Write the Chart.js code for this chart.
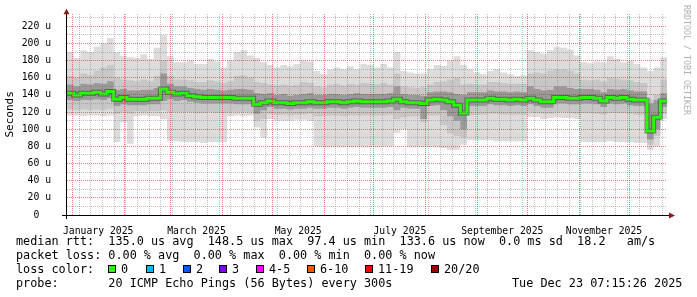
<!DOCTYPE html>
<html>
<head>
<meta charset="utf-8">
<script src="https://cdn.jsdelivr.net/npm/chart.js@4.4.1/dist/chart.umd.min.js"></script>
<style>
  html, body { margin: 0; padding: 0; background: #fff; }
  #wrap { position: relative; width: 697px; height: 297px; overflow: hidden; }
  #chart { position: absolute; left: 0; top: 0; }
  .row { position: absolute; font-family: 'DejaVu Sans Mono', monospace; font-size: 11.8px; line-height: 14px; white-space: pre; color: #000; }
  .box { position: absolute; width: 8px; height: 8px; box-sizing: border-box; border: 1px solid #000; }
  #credit { position: absolute; left: 682px; top: 5px; writing-mode: vertical-rl; font-family: 'DejaVu Sans Mono', monospace; font-size: 8.3px; color: #b0b0b0; white-space: pre; }
</style>
</head>
<body>
<div id="wrap">
  <canvas id="chart" width="697" height="297"></canvas>
  <div id="credit">RRDTOOL / TOBI OETIKER</div>
  <div class="row" style="left:16px;top:234px">median rtt:  135.0 us avg  148.5 us max  97.4 us min  133.6 us now  0.0 ms sd  18.2   am/s</div>
  <div class="row" style="left:16px;top:248px">packet loss: 0.00 % avg  0.00 % max  0.00 % min  0.00 % now</div>
  <div class="row" id="lossRow" style="left:0;top:262px;width:697px;height:14px"></div>
  <div class="row" style="left:16px;top:276px">probe:       20 ICMP Echo Pings (56 Bytes) every 300s</div>
  <div class="row" style="left:512px;top:276px">Tue Dec 23 07:15:26 2025</div>
</div>
<script>
// x axis is in days since 2025-01-01 00:00, one value every 4 days
var xMin = -3.2, xMax = 356.8;
var firstDay = -3.2, stepDays = 4;

var median = [142,140,142,142,143,141,144,135,137,135,
  135,135,136,136,147,143,141,142,139,138,
  137,137,137,137,137,136,136,136,129,131,
  133,131,131,130,131,131,132,131,131,132,
  132,131,132,133,132,132,132,132,133,135,
  132,131,131,130,134,135,134,132,128,119,
  134,134,134,136,135,135,134,135,134,136,
  134,132,132,137,137,136,136,137,137,136,
  133,137,136,137,135,134,134,98,114,133];

var smokeTop = [190,183,192,190,196,200,206,190,185,184,
  183,187,182,195,210,185,178,178,180,176,
  176,182,179,172,180,190,192,186,183,178,
  175,172,175,173,176,180,179,168,164,170,
  172,170,173,170,176,175,172,176,172,190,
  168,166,165,165,170,175,174,180,185,175,
  170,166,164,168,170,166,164,162,163,192,
  190,188,192,196,195,193,186,178,177,179,
  178,185,182,178,180,176,172,168,172,184];

var smokeBottom = [116,116,115,116,116,115,116,85,108,83,
  115,116,115,115,112,86,86,85,85,85,
  84,85,85,85,115,116,115,116,102,90,
  112,110,110,110,111,111,110,80,79,79,
  79,79,79,79,79,79,79,80,80,96,
  100,79,79,79,79,79,78,76,76,82,
  87,87,87,87,86,86,86,86,86,114,
  114,112,113,114,113,113,112,85,85,85,
  85,86,85,85,85,84,84,76,80,112];

var midTop = [162,160,165,163,168,172,175,160,158,157,
  156,158,156,162,180,162,158,158,157,155,
  155,157,156,154,156,162,163,160,155,154,
  152,151,152,151,152,155,154,150,149,152,
  153,151,153,152,154,153,152,154,152,165,
  150,149,148,149,152,155,156,158,160,152,
  153,152,152,155,155,154,153,153,153,165,
  166,165,168,170,170,168,165,158,157,158,
  156,160,159,158,157,155,154,135,140,158];

var midBottom = [123,122,123,122,123,122,124,118,120,118,
  121,120,121,121,122,120,120,120,120,119,
  119,120,119,119,120,120,120,120,110,112,
  118,117,117,116,117,117,118,115,115,116,
  116,115,116,116,116,116,116,116,117,112,
  114,115,115,108,116,116,105,95,92,90,
  116,117,117,118,118,117,117,117,117,120,
  119,118,118,120,120,119,118,119,119,118,
  117,119,119,119,118,117,117,82,92,118];

var coreTop = [152,150,153,152,154,153,156,146,147,145,
  145,146,146,148,165,153,150,150,148,147,
  146,147,146,145,146,147,147,146,142,141,
  142,140,141,139,140,141,142,140,140,141,
  141,140,141,142,141,141,141,141,142,150,
  141,140,140,139,143,144,144,143,141,140,
  143,143,143,145,144,144,143,144,143,150,
  147,145,146,150,150,148,147,147,147,146,
  143,147,146,147,145,144,144,130,134,142];

var coreBottom = [134,133,134,134,135,134,136,127,129,128,
  128,128,129,129,133,135,133,134,132,131,
  130,130,130,130,130,129,129,129,118,122,
  126,124,124,123,124,124,125,124,124,125,
  125,124,125,126,125,125,125,125,126,122,
  125,124,124,112,127,128,122,115,110,100,
  127,127,127,129,128,128,127,128,127,129,
  127,125,125,130,130,129,129,130,130,129,
  126,130,129,130,128,127,127,88,100,126];

var labelMonths = [0, 2, 4, 6, 8, 10];
var monthLabels = ['January 2025', 'March 2025', 'May 2025', 'July 2025', 'September 2025', 'November 2025'];
var yStep = 10, yLabelStep = 20, yTop = 230;

var lossLabels = ['0', '1', '2', '3', '4-5', '6-10', '11-19', '20/20'];
var lossColors = ['#26ff00', '#00b8ff', '#0059ff', '#7e00ff', '#ff00ff', '#ff5500', '#ff0000', '#a10000'];
var lossBoxX = [108, 146, 183, 219, 256, 307, 365, 431];

// loss colour legend row
var lossRow = document.getElementById('lossRow');
var head = document.createElement('span');
head.style.position = 'absolute'; head.style.left = '16px';
head.textContent = 'loss color:';
lossRow.appendChild(head);
lossLabels.forEach(function (lbl, i) {
    var b = document.createElement('span');
    b.className = 'box';
    b.style.left = lossBoxX[i] + 'px';
    b.style.top = '3px';
    b.style.background = lossColors[i];
    lossRow.appendChild(b);
    var t = document.createElement('span');
    t.style.position = 'absolute';
    t.style.left = (lossBoxX[i] + 13) + 'px';
    t.textContent = lbl;
    lossRow.appendChild(t);
});

function dayOf(m, d) {
    return (Date.UTC(2025, m, d) - Date.UTC(2025, 0, 1)) / 864e5;
}

var monthStarts = [];
for (var m = 0; m < 12; m++) monthStarts.push(dayOf(m, 1));
var sundays = [];
for (var s = -3; s <= xMax; s += 7) sundays.push(s);
var labelAt = new Map();
labelMonths.forEach(function (m, i) {
    var mid = dayOf(m, 1) + (dayOf(m + 1, 1) - dayOf(m, 1)) / 2;
    labelAt.set(mid, monthLabels[i]);
});

var yGrid = [];
for (var v = yStep; v <= yTop; v += yStep) yGrid.push(v);
var yLabelTicks = yGrid.filter(function (v) { return v % yLabelStep === 0; });
yLabelTicks.unshift(0);

var gridGray = 'rgba(120,120,120,0.45)';
var gridRed = 'rgba(215,40,40,0.6)';

function pts(arr) {
    var out = arr.map(function (val, i) { return { x: firstDay + stepDays * i, y: val }; });
    out.push({ x: xMax, y: arr[arr.length - 1] });
    return out;
}

function band(lo, hi, color, order) {
    return [{
        data: pts(lo), borderColor: 'rgba(0,0,0,0)', borderWidth: 1,
        pointRadius: 0, fill: false, stepped: true, order: order
    }, {
        data: pts(hi), borderColor: 'rgba(0,0,0,0)', borderWidth: 1,
        pointRadius: 0, fill: '-1', backgroundColor: color, stepped: true, order: order
    }];
}

// rrdtool style dotted grid, drawn over the smoke
var gridPlugin = {
    id: 'rrdgrid',
    afterDatasetsDraw: function (chart) {
        var ctx = chart.ctx, a = chart.chartArea;
        var xs = chart.scales.x, ys = chart.scales.y;
        ctx.save();
        function vline(val, color) {
            var px = Math.floor(xs.getPixelForValue(val));
            if (px <= a.left || px >= a.right) return;
            ctx.fillStyle = color;
            for (var y = Math.ceil(a.top); y < a.bottom; y += 2) ctx.fillRect(px, y, 1, 1);
        }
        function hline(val, color) {
            var py = Math.floor(ys.getPixelForValue(val));
            ctx.fillStyle = color;
            for (var x = a.left; x < a.right; x += 2) ctx.fillRect(x, py, 1, 1);
        }
        sundays.forEach(function (d) { if (monthStarts.indexOf(d) < 0) vline(d, gridGray); });
        yGrid.forEach(function (g) { if (g % yLabelStep !== 0) hline(g, gridGray); });
        monthStarts.forEach(function (d) { vline(d, gridRed); });
        yGrid.forEach(function (g) { if (g % yLabelStep === 0) hline(g, gridRed); });
        ctx.restore();
    }
};

var axesPlugin = {
    id: 'axes',
    afterDraw: function (chart) {
        var ctx = chart.ctx, a = chart.chartArea;
        var ax = a.left - 0.5, ay = a.bottom + 0.5;
        ctx.save();
        ctx.strokeStyle = '#000';
        ctx.lineWidth = 1;
        ctx.beginPath();
        ctx.moveTo(a.left - 5, ay); ctx.lineTo(a.right + 2, ay);
        ctx.moveTo(ax, a.bottom + 4); ctx.lineTo(ax, a.top);
        ctx.stroke();
        ctx.fillStyle = '#8b1a1a';
        ctx.beginPath();
        ctx.moveTo(ax - 3, a.top + 0.5); ctx.lineTo(ax + 3, a.top + 0.5); ctx.lineTo(ax, a.top - 5);
        ctx.closePath(); ctx.fill();
        ctx.beginPath();
        ctx.moveTo(a.right + 2, ay - 3); ctx.lineTo(a.right + 2, ay + 3); ctx.lineTo(a.right + 8, ay);
        ctx.closePath(); ctx.fill();
        ctx.restore();
    }
};

Chart.defaults.font.family = "'DejaVu Sans Mono', monospace";
Chart.defaults.color = '#000';

var datasets = []
    .concat(band(smokeBottom, smokeTop, '#dcdcdc', 6))
    .concat(band(midBottom, midTop, '#c7c7c7', 5))
    .concat(band(coreBottom, coreTop, '#9a9a9a', 4))
    .concat([{
        data: pts(median), borderColor: 'rgba(35,35,35,0.5)', borderWidth: 5,
        pointRadius: 0, fill: false, stepped: true, order: 2
    }, {
        data: pts(median), borderColor: '#26ff00', borderWidth: 3,
        pointRadius: 0, fill: false, stepped: true, order: 1
    }]);

new Chart(document.getElementById('chart'), {
    type: 'line',
    data: { datasets: datasets },
    plugins: [gridPlugin, axesPlugin],
    options: {
        responsive: false,
        animation: false,
        events: [],
        layout: { padding: { top: 13, right: 30, left: 0, bottom: 0 } },
        plugins: { legend: { display: false }, tooltip: { enabled: false } },
        scales: {
            x: {
                type: 'linear', min: xMin, max: xMax,
                afterFit: function (s) { s.height = 82; },
                afterBuildTicks: function (s) {
                    s.ticks = Array.from(labelAt.keys()).map(function (t) { return { value: t }; });
                },
                ticks: {
                    autoSkip: false, maxRotation: 0, minRotation: 0, padding: 3,
                    font: { size: 9.75 }, color: '#000',
                    callback: function (val) { return labelAt.get(val) || ''; }
                },
                grid: { display: false },
                border: { display: false }
            },
            y: {
                min: 0, max: 234.5,
                afterFit: function (s) { s.width = 67; },
                afterBuildTicks: function (s) {
                    s.ticks = yLabelTicks.map(function (t) { return { value: t }; });
                },
                ticks: {
                    autoSkip: false, padding: 8, font: { size: 9.75 }, color: '#000',
                    callback: function (val) { return val === 0 ? '0  ' : val + ' u'; }
                },
                grid: { display: false },
                border: { display: false },
                title: {
                    display: true, text: 'Seconds', color: '#000',
                    font: { size: 11, lineHeight: 1.2 }, padding: { top: 4, bottom: 0 }
                }
            }
        }
    }
});
</script>
</body>
</html>
